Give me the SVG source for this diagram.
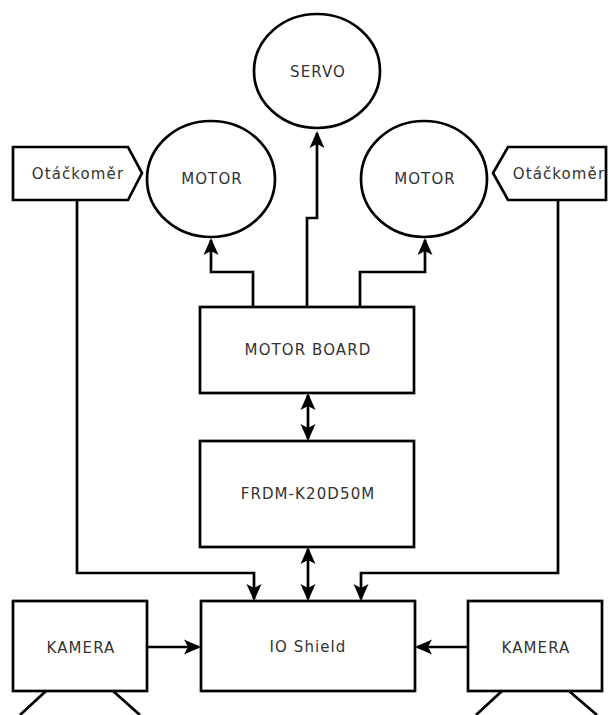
<svg xmlns="http://www.w3.org/2000/svg" width="616" height="715" viewBox="0 0 616 715">
<defs>
<marker id="ah" markerUnits="userSpaceOnUse" markerWidth="20" markerHeight="18" viewBox="0 -9 20 18" refX="15" refY="0" orient="auto-start-reverse">
<path d="M0,-7.5 L17,0 L0,7.5 L4,0 Z" fill="#000"/>
</marker>
<style>
.s{fill:#fff;stroke:#000;stroke-width:2.7}
.t{font-family:"DejaVu Sans",Verdana,sans-serif;font-size:15px;letter-spacing:1.1px;fill:#333;text-anchor:middle}
.c{fill:none;stroke:#000;stroke-width:2.7}
</style>
</defs>
<rect width="616" height="715" fill="#fff"/>
<g id="connectors">
<path class="c" d="M253,307 V272 H211 V240" marker-end="url(#ah)"/>
<path class="c" d="M360,307 V272 H425 V240" marker-end="url(#ah)"/>
<path class="c" d="M307,307 V218 H317 V133" marker-end="url(#ah)"/>
<path class="c" d="M308,395 V439" marker-start="url(#ah)" marker-end="url(#ah)"/>
<path class="c" d="M308,549 V599" marker-start="url(#ah)" marker-end="url(#ah)"/>
<path class="c" d="M77,200 V573 H254 V599" marker-end="url(#ah)"/>
<path class="c" d="M558,200 V573 H361 V599" marker-end="url(#ah)"/>
<path class="c" d="M147,647 H199" marker-end="url(#ah)"/>
<path class="c" d="M468,647 H417" marker-end="url(#ah)"/>
<path class="c" d="M46,691 L20,715 M113,691 L140,715"/>
<path class="c" d="M502,691 L476,715 M569,691 L597,715"/>
</g>
<g id="servo"><ellipse class="s" cx="317" cy="71" rx="63" ry="57"/><text class="t" x="318" y="77">SERVO</text></g>
<g id="motor-left"><ellipse class="s" cx="211" cy="179" rx="64" ry="58"/><text class="t" x="212" y="184">MOTOR</text></g>
<g id="motor-right"><ellipse class="s" cx="424" cy="179" rx="63" ry="58"/><text class="t" x="425" y="184">MOTOR</text></g>
<g id="otackomer-left"><polygon class="s" points="13,147 128,147 142,173 128,200 13,200"/><text class="t" x="78" y="179">Otáčkoměr</text></g>
<g id="otackomer-right"><polygon class="s" points="606,147 508,147 493,173 508,200 606,200"/><text class="t" x="559" y="179">Otáčkoměr</text></g>
<g id="motor-board"><rect class="s" x="200" y="307" width="214" height="86"/><text class="t" x="308" y="355">MOTOR BOARD</text></g>
<g id="frdm"><rect class="s" x="200" y="441" width="214" height="106"/><text class="t" x="308" y="499">FRDM-K20D50M</text></g>
<g id="io-shield"><rect class="s" x="201" y="601" width="214" height="90"/><text class="t" x="308" y="652">IO Shield</text></g>
<g id="kamera-left"><rect class="s" x="13" y="601" width="134" height="90"/><text class="t" x="81" y="653">KAMERA</text></g>
<g id="kamera-right"><rect class="s" x="468" y="601" width="134" height="90"/><text class="t" x="536" y="653">KAMERA</text></g>
</svg>
